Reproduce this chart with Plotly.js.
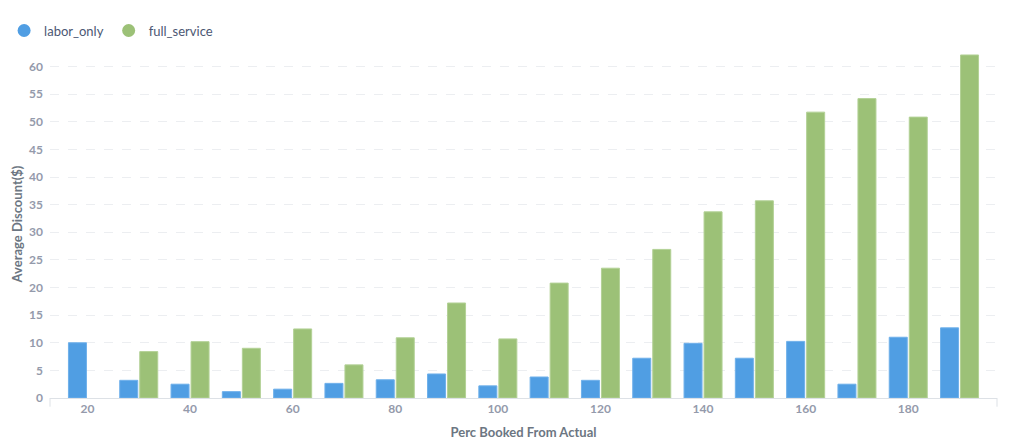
<!DOCTYPE html>
<html>
<head>
<meta charset="utf-8">
<script src="https://cdn.plot.ly/plotly-3.0.1.min.js"></script>
<style>
  html, body { margin: 0; padding: 0; background: #fff; }
  #chart { width: 1024px; height: 445px; }
</style>
</head>
<body>
<div id="chart"></div>
<script>
var percBooked = [20, 30, 40, 50, 60, 70, 80, 90, 100, 110, 120, 130, 140, 150, 160, 170, 180, 190];
var laborOnly = [10.0, 3.2, 2.5, 1.15, 1.6, 2.65, 3.3, 4.35, 2.2, 3.8, 3.2, 7.2, 9.9, 7.2, 10.25, 2.5, 11.0, 12.7];
var fullService = [null, 8.4, 10.2, 9.0, 12.5, 6.0, 10.9, 17.2, 10.7, 20.8, 23.5, 26.9, 33.7, 35.7, 51.75, 54.2, 50.85, 62.1];

var blue = "#509ee3";
var green = "#9cc177";
var font = "Lato, 'Open Sans', sans-serif";

var traces = [
    {
        type: "bar", name: "labor_only", x: percBooked, y: laborOnly,
        marker: {color: blue, line: {color: "#6fb0ea", width: 1}},
        showlegend: false
    },
    {
        type: "bar", name: "full_service", x: percBooked, y: fullService,
        marker: {color: green, line: {color: "#b3d196", width: 1}},
        showlegend: false
    },
    // legend entries with round markers
    {
        type: "scatter", mode: "markers", name: "labor_only", x: [null], y: [null],
        marker: {color: blue, size: 13, symbol: "circle"}
    },
    {
        type: "scatter", mode: "markers", name: "full_service", x: [null], y: [null],
        marker: {color: green, size: 13, symbol: "circle"}
    }
];

var layout = {
    width: 1024,
    height: 445,
    margin: {l: 50, r: 27, t: 50, b: 47},
    paper_bgcolor: "#fff",
    plot_bgcolor: "#fff",
    font: {family: font, size: 12, color: "#949aab"},
    barmode: "group",
    bargap: 0.22,
    bargroupgap: 0.1,
    showlegend: true,
    legend: {
        orientation: "h",
        x: 0.004, xref: "container", xanchor: "left",
        y: 0.965, yref: "container", yanchor: "top",
        font: {family: font, size: 13, color: "#4c5773"},
        itemwidth: 30,
        tracegroupgap: 0
    },
    xaxis: {
        range: [12.7, 197.3],
        tick0: 20, dtick: 20,
        showgrid: false,
        zeroline: false,
        showline: true,
        linecolor: "#dde1e6",
        linewidth: 1,
        ticks: "",
        tickfont: {family: font, size: 12, color: "#949aab", weight: "bold"},
        title: {text: "Perc Booked From Actual", standoff: 12,
                font: {family: font, size: 13, color: "#6c7682", weight: "bold"}}
    },
    yaxis: {
        range: [0, 63],
        dtick: 5,
        showgrid: true,
        gridcolor: "#eceef1",
        griddash: "dash",
        zeroline: false,
        showline: false,
        ticks: "",
        ticklabelstandoff: 6,
        tickfont: {family: font, size: 12, color: "#949aab", weight: "bold"},
        title: {text: "Average Discount($)", standoff: 3,
                font: {family: font, size: 13, color: "#6c7682", weight: "bold"}}
    },
    shapes: [
        {type: "line", xref: "paper", yref: "paper", x0: 0, x1: 0, y0: 0, y1: -0.025,
         line: {color: "#dde1e6", width: 1}},
        {type: "line", xref: "paper", yref: "paper", x0: 1, x1: 1, y0: 0, y1: -0.025,
         line: {color: "#dde1e6", width: 1}}
    ]
};

Plotly.newPlot("chart", traces, layout, {displayModeBar: false, staticPlot: true});
</script>
</body>
</html>
